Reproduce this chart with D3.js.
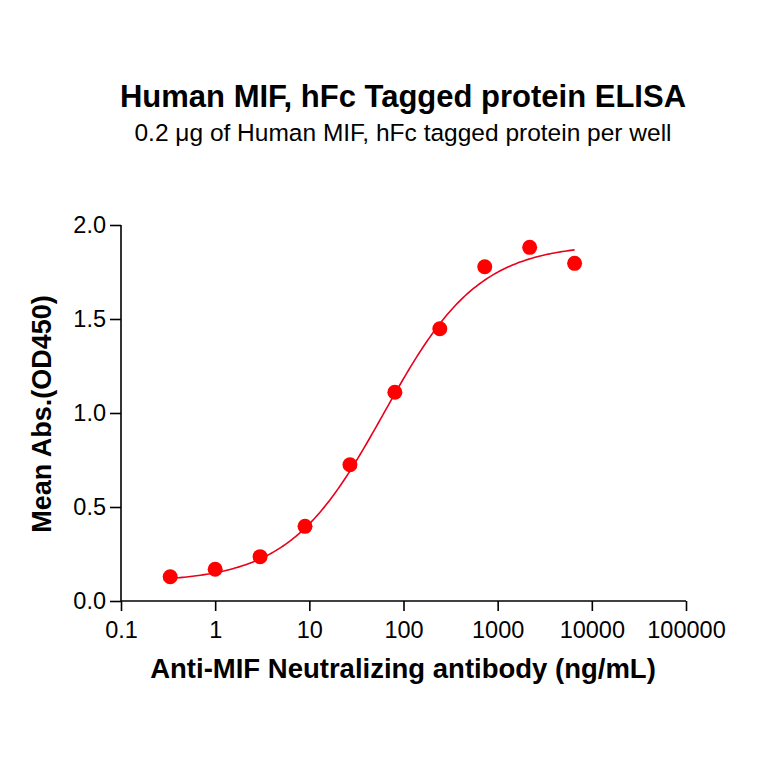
<!DOCTYPE html>
<html>
<head>
<meta charset="utf-8">
<script src="https://cdn.jsdelivr.net/npm/d3@7"></script>
<style>
body{margin:0;background:#fff;}
text{font-family:"Liberation Sans",Arial,sans-serif;fill:#000;}
</style>
</head>
<body>
<script>
var width=764, height=764;
var margin={left:121, right:764-686, top:225, bottom:764-601};

// data
var conc=[0.333,1,3,9,27,81,243,729,2187,6561];
var od=[0.129,0.169,0.236,0.397,0.725,1.110,1.448,1.778,1.881,1.796];
var xTicks=[0.1,1,10,100,1000,10000,100000];
var yTicks=[0,0.5,1.0,1.5,2.0];
// 4PL fit parameters (estimated from the curve)
var fitBottom=0.1, fitTop=1.9, fitEC50=62, fitHill=0.86;

var svg=d3.select("body").append("svg").attr("width",width).attr("height",height);

var x=d3.scaleLog().domain([0.1,100000]).range([margin.left,width-margin.right]);
var y=d3.scaleLinear().domain([0,2]).range([height-margin.bottom,margin.top]);

svg.append("text").attr("x",403).attr("y",107).attr("text-anchor","middle")
	.style("font-size","31px").style("font-weight","bold")
	.text("Human MIF, hFc Tagged protein ELISA");
svg.append("text").attr("x",403).attr("y",141).attr("text-anchor","middle")
	.style("font-size","24.5px")
	.text("0.2 \u03bcg of Human MIF, hFc tagged protein per well");

var xAxis=svg.append("g").attr("transform","translate(0,"+y(0)+")")
	.call(d3.axisBottom(x).tickValues(xTicks).tickSize(10).tickPadding(10).tickFormat(function(d){return String(d);}));
var yAxis=svg.append("g").attr("transform","translate("+x(0.1)+",0)")
	.call(d3.axisLeft(y).tickValues(yTicks).tickSize(11).tickPadding(4).tickFormat(d3.format(".1f")));
svg.selectAll(".domain").attr("stroke","#000").attr("stroke-width",1.6);
svg.selectAll(".tick line").attr("stroke","#000").attr("stroke-width",1.6);
// plain axis lines without outer ticks
xAxis.select(".domain").attr("d","M"+x(0.1)+",0H"+x(100000));
yAxis.select(".domain").attr("d","M0,"+y(0)+"V"+y(2));
svg.selectAll(".tick text").style("font-size","23.5px").style("font-family","'Liberation Sans',Arial,sans-serif").attr("fill","#000");

svg.append("text").attr("x",403).attr("y",678).attr("text-anchor","middle")
	.style("font-size","27.5px").style("font-weight","bold")
	.text("Anti-MIF Neutralizing antibody (ng/mL)");
svg.append("text").attr("transform","translate(51,414) rotate(-90)").attr("text-anchor","middle")
	.style("font-size","27px").style("font-weight","bold")
	.text("Mean Abs.(OD450)");

function fourPL(c) {
	return fitBottom+(fitTop-fitBottom)/(1+Math.pow(fitEC50/c,fitHill));
}
var curve=[];
var lo=Math.log10(conc[0]), hi=Math.log10(conc[conc.length-1]);
for (var i=0;i<=200;i++) {
	var c=Math.pow(10,lo+(hi-lo)*i/200);
	curve.push([c,fourPL(c)]);
}
svg.append("path").datum(curve)
	.attr("d",d3.line().x(function(d){return x(d[0]);}).y(function(d){return y(d[1]);}))
	.attr("fill","none").attr("stroke","#e8001c").attr("stroke-width",1.6);

svg.selectAll(".pt").data(conc).enter().append("circle")
	.attr("cx",function(d){return x(d);})
	.attr("cy",function(d,i){return y(od[i]);})
	.attr("r",7.5).attr("fill","#ff0000");
</script>
</body>
</html>
